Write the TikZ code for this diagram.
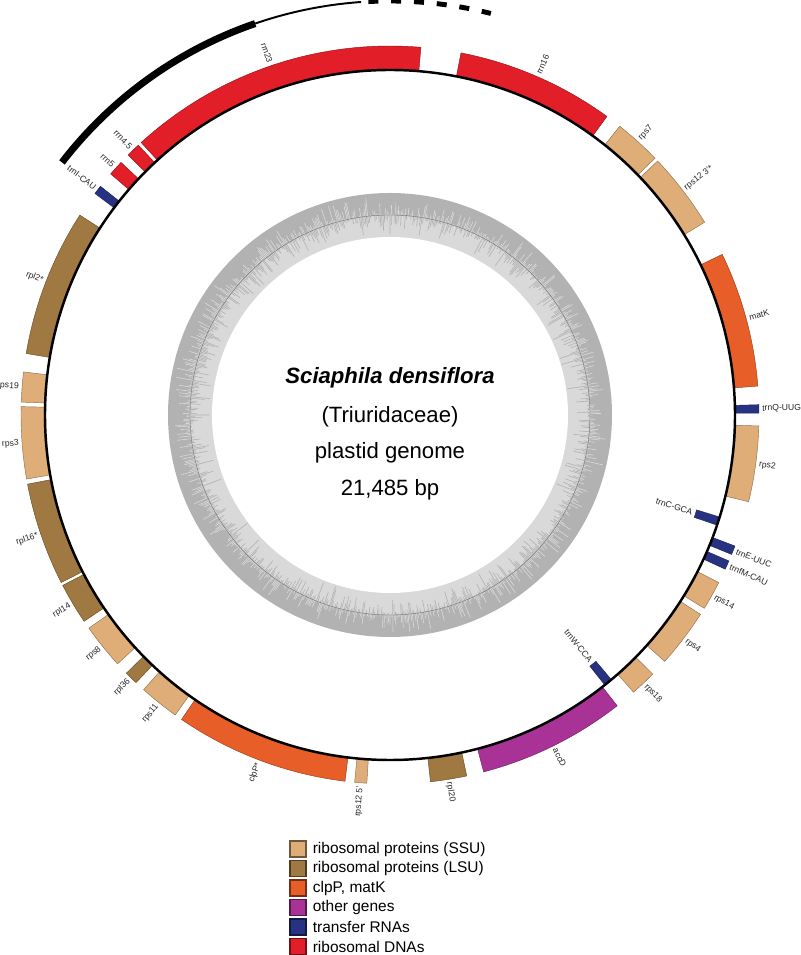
\documentclass[tikz,border=0pt]{standalone}
\usepackage{fontspec}
\setmainfont{Liberation Sans}
\usepackage{tikz}
\definecolor{ssu}{RGB}{222,173,120}
\definecolor{lsu}{RGB}{160,120,66}
\definecolor{clp}{RGB}{232,94,40}
\definecolor{other}{RGB}{168,50,150}
\definecolor{trna}{RGB}{40,50,130}
\definecolor{rrna}{RGB}{226,30,40}
\definecolor{ringdark}{gray}{0.70}
\definecolor{ringlight}{gray}{0.85}
\tikzset{
  genelab/.style={inner sep=0pt,text=black!85,font=\fontsize{4.9}{5}\selectfont},
  title/.style={font=\fontsize{12.6}{14}\selectfont},
  legbox/.style={minimum width=9.1pt,minimum height=9.1pt,inner sep=0pt,line width=0.6pt},
  legtext/.style={inner sep=0pt,font=\fontsize{8.8}{10}\selectfont}
}
\begin{document}
\begin{tikzpicture}[x=0.02cm,y=0.02cm]
\useasboundingbox (-390,-540) rectangle (410,415);
\fill[ringdark] (0,0) circle[radius=222];
\fill[ringlight] (0,0) circle[radius=200];
\pgfmathsetseed{42}
\foreach \a in {0,0.4,...,359.8}{
  \pgfmathsetmacro\din{22*rnd*rnd}
  \pgfmathsetmacro\dout{20*rnd*rnd}
  \draw[ringdark,line width=0.35pt] (\a:200) -- (\a:{200-\din});
  \draw[ringlight,line width=0.35pt] (\a:200) -- (\a:{200+\dout});
}
\draw[black!60,line width=0.2pt] (0,0) circle[radius=200];
\fill[white] (0,0) circle[radius=178];
\foreach \s/\e/\col/\side/\lab [count=\i] in {132.4/85.2/rrna/1/rrn23, 78.9/54.0/rrna/1/rrn16, 51.5/44.1/ssu/1/rps7, 43.5/31.5/ssu/1/{rps12 3'*}, 25.8/4.5/clp/1/matK, 1.6/0.3/trna/1/trnQ-UUG, -1.7/-13.6/ssu/1/rps2, -17.2/-18.6/trna/0/trnC-GCA, -20.8/-22.2/trna/1/trnE-UUC, -23.3/-24.7/trna/1/trnfM-CAU, -27.0/-31.6/ssu/1/rps14, -32.7/-41.9/ssu/1/rps4, -44.6/-48.7/ssu/1/rps18, -50.1/-51.5/trna/0/trnW-CCA, -52.0/-75.3/other/1/accD, -78.0/-83.7/lsu/1/rpl20, -93.6/-95.5/ssu/1/{rps12 5'}, -97.0/-124.4/clp/1/clpP*, -125.6/-131.9/ssu/1/rps11, -133.5/-135.6/lsu/1/rpl36, -137.6/-144.7/ssu/1/rps8, -146.0/-152.5/lsu/1/rpl14, -153.0/-169.2/lsu/1/rpl16*, -170.0/-181.3/ssu/1/rps3, 178.0/173.3/ssu/1/rps19, 170.4/147.2/lsu/1/rpl2*, 143.1/141.7/trna/1/trnI-CAU, 139.2/136.8/rrna/1/rrn5, 135.2/133.0/rrna/1/rrn4.5}{
  \pgfmathsetmacro\m{(\s+\e)/2}
  \pgfmathtruncatemacro\flip{cos(\m)<0}
  \pgfmathtruncatemacro\w{\side+\flip}
  \pgfmathsetmacro\rot{\m+180*\flip}
  \ifnum\w=1 \def\anc{west}\else\def\anc{east}\fi
  \ifnum\side=1 \def\ri{346}\def\ro{369}\def\rl{372}\else\def\ri{321}\def\ro{344}\def\rl{318}\fi
  \filldraw[fill=\col,draw=\col!65!black,line width=0.25pt] (\s:\ri) arc[start angle=\s,end angle=\e,radius=\ri] -- (\e:\ro) arc[start angle=\e,end angle=\s,radius=\ro] -- cycle;
  \node[genelab,anchor=\anc,rotate=\rot] (g\i) at (\m:\rl) {\lab};
}
\draw[line width=1.4pt] (0,0) circle[radius=345];
\draw[line width=4pt] (142.4:414) arc[start angle=142.4,end angle=109,radius=414];
\draw[line width=1.1pt] (109:414) arc[start angle=109,end angle=94,radius=414];
\draw[line width=2.8pt,dash pattern=on 5.7pt off 7.3pt] (93:414) arc[start angle=93,end angle=75.9,radius=414];
\node[title] (species) at (0,37) {\textbf{\textit{Sciaphila densiflora}}};
\node[title] (family) at (0,-2) {(Triuridaceae)};
\node[title] (kind) at (0,-38) {plastid genome};
\node[title] (size) at (0,-75) {21,485 bp};
\foreach \col/\txt [count=\i] in {ssu/ribosomal proteins (SSU), lsu/ribosomal proteins (LSU), clp/{clpP, matK}, other/other genes, trna/transfer RNAs, rrna/ribosomal DNAs}{
  \node[legbox,fill=\col,draw=\col!50!black] (key\i) at (-92,{-434-19.5*(\i-1)}) {};
  \node[legtext,anchor=west] (keytext\i) at ([xshift=3.4pt]key\i.east) {\txt};
}
\end{tikzpicture}
\end{document}
